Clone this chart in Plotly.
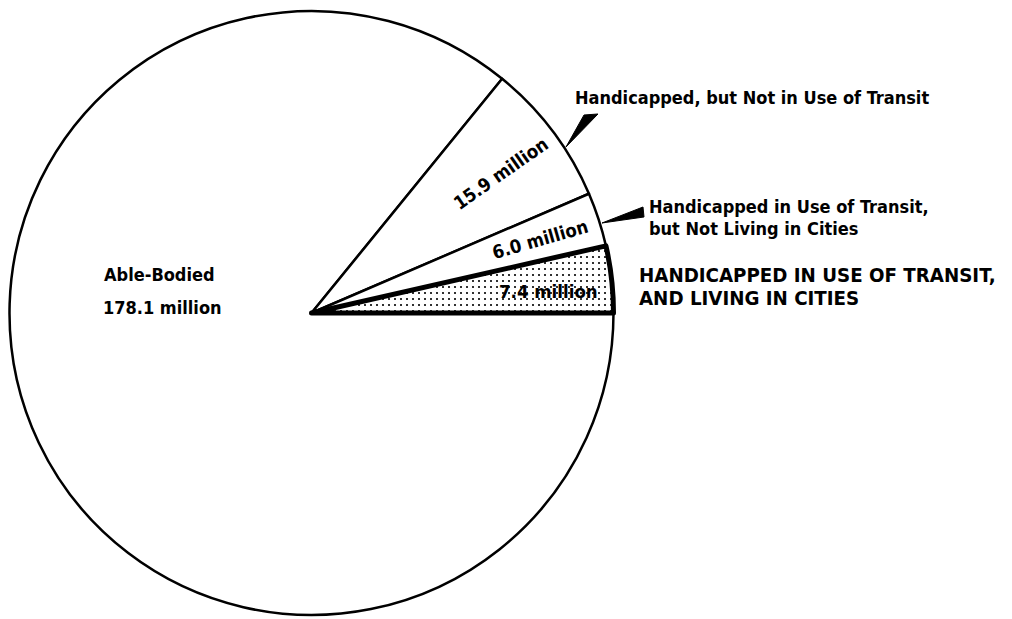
import plotly.graph_objects as go

# Data (drawn clockwise from 3 o'clock so the highlighted slice is drawn last)
categories = ["Able-Bodied",
              "Handicapped, but Not in Use of Transit",
              "Handicapped in Use of Transit, but Not Living in Cities",
              "Handicapped in Use of Transit, and Living in Cities"]
values = [178.1, 15.9, 6.0, 7.4]
value_labels = ["178.1 million", "15.9 million", "6.0 million", "7.4 million"]

FONT = "DejaVu Sans Condensed, Liberation Sans Narrow, sans-serif"
W, H = 1012, 619
OFF = 8  # page body margin
cx, cy, r = 311.5 - OFF, 313 - OFF, 302  # pixel geometry of pie (figure coords)

fig = go.Figure(go.Pie(
    labels=categories,
    values=values,
    sort=False,
    direction="clockwise",
    rotation=90,
    textinfo="none",
    hoverinfo="label+value",
    showlegend=False,
    domain=dict(x=[(cx - r) / W, (cx + r) / W], y=[(H - cy - r) / H, (H - cy + r) / H]),
    marker=dict(
        colors=["white", "white", "white", "white"],
        line=dict(color="black", width=[2.5, 2.5, 2.5, 5]),
        pattern=dict(shape=["", "", "", "."], fgcolor="black", bgcolor="white",
                     size=6, solidity=0.1),
    ),
))

def px(x, y):
    return (x - OFF) / W, 1 - (y - OFF) / H

annots = []
def add(text, x, y, size=18, angle=0, xanchor="center"):
    ax, ay = px(x, y)
    annots.append(dict(text="<b>" + text + "</b>", x=ax, y=ay, xref="paper", yref="paper",
                       showarrow=False, textangle=angle, xanchor=xanchor, yanchor="middle",
                       font=dict(family=FONT, size=size, color="black"), align="left"))

add(categories[0], 159, 275)
add(value_labels[0], 162, 307)
add(value_labels[1], 501, 174, size=18.5, angle=-35)
add(value_labels[2], 540, 240, size=18.5, angle=-16)
add(value_labels[3], 548, 292, size=18.5)
add("Handicapped, but Not in Use of Transit", 573, 97, xanchor="left")
add("Handicapped in Use of Transit,", 647, 206, xanchor="left")
add("but Not Living in Cities", 647, 228, xanchor="left")
add("HANDICAPPED IN USE OF TRANSIT,", 637, 275, size=20.3, xanchor="left")
add("AND LIVING IN CITIES", 637, 298, size=20.3, xanchor="left")

def tri(pts):
    s = "M " + " L ".join(f"{(p[0]-OFF)/W:.5f},{1-(p[1]-OFF)/H:.5f}" for p in pts) + " Z"
    return dict(type="path", path=s, xref="paper", yref="paper",
                fillcolor="black", line=dict(color="black", width=1))

shapes = [tri([(566, 147), (584, 115), (598, 114)]),
          tri([(602, 223), (643, 207), (644, 217)])]

fig.update_layout(width=W, height=H, margin=dict(l=0, r=0, t=0, b=0),
                  paper_bgcolor="white", plot_bgcolor="white",
                  annotations=annots, shapes=shapes)
fig.write_html("out.html")
